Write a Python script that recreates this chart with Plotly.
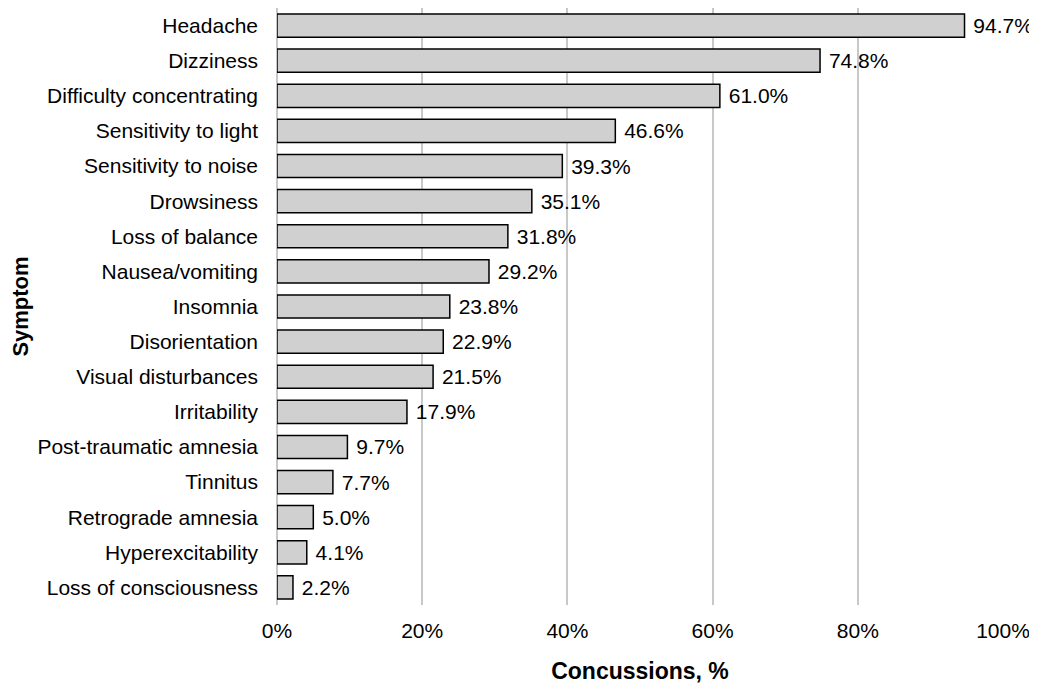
import plotly.graph_objects as go

symptoms = ["Headache", "Dizziness", "Difficulty concentrating", "Sensitivity to light",
            "Sensitivity to noise", "Drowsiness", "Loss of balance", "Nausea/vomiting",
            "Insomnia", "Disorientation", "Visual disturbances", "Irritability",
            "Post-traumatic amnesia", "Tinnitus", "Retrograde amnesia",
            "Hyperexcitability", "Loss of consciousness"]
percent = [94.7, 74.8, 61.0, 46.6, 39.3, 35.1, 31.8, 29.2, 23.8, 22.9, 21.5, 17.9,
           9.7, 7.7, 5.0, 4.1, 2.2]
labels = [f" {v:.1f}%" for v in percent]

font_family = "Liberation Sans, Arial, sans-serif"

fig = go.Figure(go.Bar(
    x=percent,
    y=symptoms,
    orientation="h",
    text=labels,
    textposition="outside",
    textfont=dict(size=21, color="#000000", family=font_family),
    cliponaxis=False,
    marker=dict(color="#d0d0d0", line=dict(color="#000000", width=1.5)),
))

# page body has an 8px margin, so the figure is sized to fit the window
fig.update_layout(
    width=1029, height=677,
    margin=dict(l=269, r=34, t=0, b=80),
    plot_bgcolor="white", paper_bgcolor="white",
    bargap=0.34,
    showlegend=False,
    font=dict(family=font_family, size=21, color="#000000"),
    xaxis=dict(
        range=[0, 100], tickvals=[0, 20, 40, 60, 80, 100],
        ticktext=["0%", "20%", "40%", "60%", "80%", "100%"],
        showgrid=True, gridcolor="#c8c8c8", gridwidth=1.5,
        zeroline=True, zerolinecolor="#c8c8c8", zerolinewidth=1.5,
        showline=False,
        ticks="", tickfont=dict(size=21), ticklabelstandoff=11,
        title=dict(text="<b>Concussions, %</b>", font=dict(size=23), standoff=21),
    ),
    yaxis=dict(
        categoryorder="array", categoryarray=symptoms[::-1],
        ticks="", tickfont=dict(size=21), ticklabelstandoff=18,
        title=dict(text="<b>Symptom</b>", font=dict(size=22), standoff=10),
    ),
)

fig.write_html("out.html")
